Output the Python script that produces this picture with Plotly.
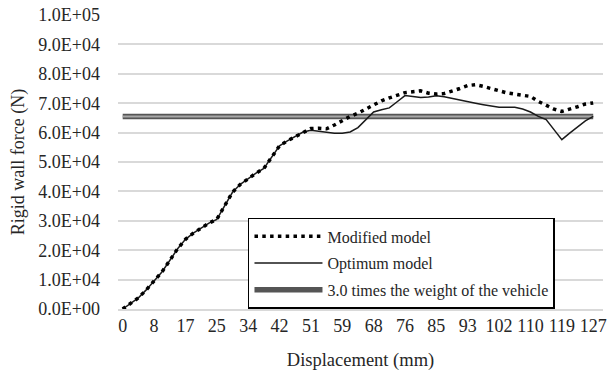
import plotly.graph_objects as go

# Category axis (Excel-style): 61 displacement steps, labelled every 4th
tick_labels = ["0", "8", "17", "25", "34", "42", "51", "59", "68", "76",
               "85", "93", "102", "110", "119", "127"]
tick_positions = [0, 4, 8, 12, 16, 20, 24, 28, 32, 36, 40, 44, 48, 52, 56, 60]
categories = list(range(61))

modified_model = [
    0, 1800, 3800, 6500, 9500, 12600, 16500, 20500, 23700, 25800,
    27500, 29200, 30500, 34900, 39700, 42400, 44400, 46200, 47800, 51500,
    55500, 57200, 58700, 60000, 61400, 61500, 61300, 62600, 64200, 65500,
    66600, 68000, 69600, 70800, 71800, 72700, 73600, 73900, 74200, 73400,
    73100, 73300, 74000, 75000, 76000, 76300, 75700, 75000, 74100, 73500,
    73100, 72800, 72300, 70600, 69200, 68000, 67200, 67900, 68800, 69700,
    70100,
]

optimum_model = [
    0, 1800, 3800, 6500, 9500, 12600, 16500, 20500, 23700, 25800,
    27500, 29200, 30500, 34900, 39700, 42400, 44400, 46200, 47800, 51500,
    55500, 57200, 58700, 60200, 60800, 60400, 60000, 59800, 59800, 60200,
    61700, 64500, 67000, 67800, 68400, 70500, 72600, 72300, 71900, 72100,
    72500, 72200, 71600, 71000, 70500, 70000, 69500, 69000, 68600, 68600,
    68600, 68000, 67000, 65500, 64400, 61000, 57600, 59800, 62000, 64000,
    65500,
]

vehicle_weight_x3 = [65500] * 61

y_ticks = [0, 10000, 20000, 30000, 40000, 50000, 60000, 70000, 80000, 90000, 100000]
y_tick_labels = ["0.0E+00", "1.0E+04", "2.0E+04", "3.0E+04", "4.0E+04", "5.0E+04",
                 "6.0E+04", "7.0E+04", "8.0E+04", "9.0E+04", "1.0E+05"]

FONT = "Liberation Serif, Times New Roman, serif"
TXT = "#262626"

fig = go.Figure()

fig.add_trace(go.Scatter(
    x=categories, y=vehicle_weight_x3, mode="lines",
    name="3.0 times the weight of the vehicle", legendgroup="c",
    line=dict(color="#555555", width=5.5), legendrank=3,
))
fig.add_trace(go.Scatter(
    x=categories, y=vehicle_weight_x3, mode="lines", showlegend=False,
    legendgroup="c",
    line=dict(color="#a8a8a8", width=2), hoverinfo="skip",
))
fig.add_trace(go.Scatter(
    x=categories, y=optimum_model, mode="lines", name="Optimum model",
    legendgroup="b",
    line=dict(color="#1a1a1a", width=1.5), legendrank=2,
))
fig.add_trace(go.Scatter(
    x=categories, y=modified_model, mode="lines", name="Modified model",
    legendgroup="a",
    line=dict(color="#000000", width=3.5, dash="3.5px,4.3px"), legendrank=1,
))

fig.update_layout(
    width=613, height=372,
    margin=dict(l=118, r=10, t=15, b=63),
    paper_bgcolor="white", plot_bgcolor="white",
    font=dict(family=FONT, size=16, color=TXT),
    legend=dict(
        x=0.268, y=0.31, xanchor="left", yanchor="top",
        bgcolor="white", bordercolor="#000000", borderwidth=1.5,
        font=dict(family=FONT, size=16, color=TXT),
        itemwidth=68, tracegroupgap=3,
    ),
    xaxis=dict(
        range=[-0.6, 61.25], automargin=False,
        tickmode="array", tickvals=tick_positions, ticktext=tick_labels,
        showgrid=False, zeroline=False,
        showline=True, linecolor="#d9d9d9", linewidth=1.5,
        ticks="", tickfont=dict(family=FONT, size=18, color=TXT),
        title=dict(text="Displacement (mm)", standoff=18,
                   font=dict(family=FONT, size=18.5, color=TXT)),
    ),
    yaxis=dict(
        range=[0, 100000], automargin=False,
        tickmode="array", tickvals=y_ticks, ticktext=y_tick_labels,
        showgrid=True, gridcolor="#d9d9d9", gridwidth=1.5,
        zeroline=False, showline=False, ticks="",
        ticklabelstandoff=17,
        tickfont=dict(family=FONT, size=18, color=TXT),
        title=dict(text="Rigid wall force (N)", standoff=9,
                   font=dict(family=FONT, size=18, color=TXT)),
    ),
)

fig.write_html(
    "out.html",
    config={"displayModeBar": False},
    post_script="document.body.style.margin='0';document.body.style.overflow='hidden';",
)
